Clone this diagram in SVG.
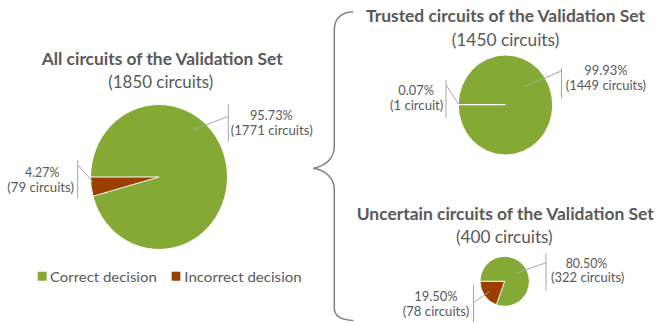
<svg xmlns="http://www.w3.org/2000/svg" width="656" height="322" viewBox="0 0 656 322">
<style>
.t{font-family:Lato,"Open Sans","DejaVu Sans",sans-serif;fill:#595959}
.title{font-weight:bold;font-size:17px}
.sub{font-size:16.5px}
.lbl{font-size:13px}
.lead{stroke:#a6a6a6;stroke-width:1;fill:none}
.g{fill:#84aa35;stroke:#fff;stroke-width:1}
.r{fill:#9a3e02;stroke:#fff;stroke-width:1}
</style>
<rect width="656" height="322" fill="#fff"/>
<g id="chart-all">
<text class="t title" x="41.7" y="65" textLength="241" lengthAdjust="spacingAndGlyphs">All circuits of the Validation Set</text>
<text class="t sub" x="108.3" y="87.5" textLength="105" lengthAdjust="spacingAndGlyphs">(1850 circuits)</text>
<ellipse class="g" cx="159" cy="177" rx="68.5" ry="72.5"/>
<path class="r" d="M159,177 L90.5,177 A68.5,72.5 0 0 0 92.95,196.22 Z"/>
<text class="t lbl"><tspan x="250" y="120" textLength="42.7" lengthAdjust="spacingAndGlyphs">95.73%</tspan><tspan x="230.7" y="134.5" textLength="82" lengthAdjust="spacingAndGlyphs">(1771 circuits)</tspan></text>
<text class="t lbl"><tspan x="25" y="177" textLength="34.3" lengthAdjust="spacingAndGlyphs">4.27%</tspan><tspan x="7.3" y="191.5" textLength="66.7" lengthAdjust="spacingAndGlyphs">(79 circuits)</tspan></text>
</g>
<g id="legend">
<rect x="37.7" y="271.7" width="9" height="9" fill="#84aa35"/>
<text class="t lbl" x="50" y="281.5" textLength="106.7" lengthAdjust="spacingAndGlyphs">Correct decision</text>
<rect x="171.7" y="271.7" width="8.6" height="9" fill="#9a3e02"/>
<text class="t lbl" x="184.3" y="281.5" textLength="117.4" lengthAdjust="spacingAndGlyphs">Incorrect decision</text>
</g>
<g id="chart-trusted">
<text class="t title" x="366" y="21.7" textLength="279" lengthAdjust="spacingAndGlyphs">Trusted circuits of the Validation Set</text>
<text class="t sub" x="451.7" y="45.8" textLength="107.6" lengthAdjust="spacingAndGlyphs">(1450 circuits)</text>
<ellipse class="g" cx="505.5" cy="105" rx="47.2" ry="50"/>
<line x1="505.5" y1="104.6" x2="458.3" y2="104.6" stroke="#fff" stroke-width="1.2"/>
<text class="t lbl"><tspan x="584.3" y="75" textLength="43.4" lengthAdjust="spacingAndGlyphs">99.93%</tspan><tspan x="565.7" y="89.5" textLength="80.3" lengthAdjust="spacingAndGlyphs">(1449 circuits)</tspan></text>
<text class="t lbl"><tspan x="398.3" y="95" textLength="35.7" lengthAdjust="spacingAndGlyphs">0.07%</tspan><tspan x="390" y="109.5" textLength="53.3" lengthAdjust="spacingAndGlyphs">(1 circuit)</tspan></text>
</g>
<g id="chart-uncertain">
<text class="t title" x="356.7" y="220" textLength="297" lengthAdjust="spacingAndGlyphs">Uncertain circuits of the Validation Set</text>
<text class="t sub" x="456" y="243" textLength="96.7" lengthAdjust="spacingAndGlyphs">(400 circuits)</text>
<ellipse class="g" cx="504.7" cy="281.3" rx="24.7" ry="25"/>
<path class="r" d="M504.7,281.3 L480,281.3 A24.7,25 0 0 0 496.33,304.82 Z"/>
<text class="t lbl"><tspan x="565.7" y="267.5" textLength="41.6" lengthAdjust="spacingAndGlyphs">80.50%</tspan><tspan x="551" y="282" textLength="73.3" lengthAdjust="spacingAndGlyphs">(322 circuits)</tspan></text>
<text class="t lbl"><tspan x="414.3" y="301" textLength="43.4" lengthAdjust="spacingAndGlyphs">19.50%</tspan><tspan x="402.7" y="315.5" textLength="66.6" lengthAdjust="spacingAndGlyphs">(78 circuits)</tspan></text>
</g>
<g id="connectors">
<path class="lead" d="M192.7,130 L228,116.5 M228.3,104 V141.7"/>
<path class="lead" d="M93,182 L78,165 M77.7,160 V198.3"/>
<path class="lead" d="M525,86.5 L561.2,71 M561.5,68.3 V98.3"/>
<path class="lead" d="M458.5,104 L446,85 M446,80 V118.3"/>
<path class="lead" d="M517.3,272.7 L546,262.7 M546,253.3 V290.7"/>
<path class="lead" d="M489.3,291.7 L473.5,302.7 M473.5,285 V322"/>
<path d="M353.3,11.7 C342,12 334.3,18 334.3,30 L334.3,146 C334.3,158 326,166 313.3,168.3 C326,170.5 334.3,178 334.3,190 L334.3,308 C334.3,316 342,320 353.3,320.5" fill="none" stroke="#7f7f7f" stroke-width="1.5"/>
</g>
</svg>
